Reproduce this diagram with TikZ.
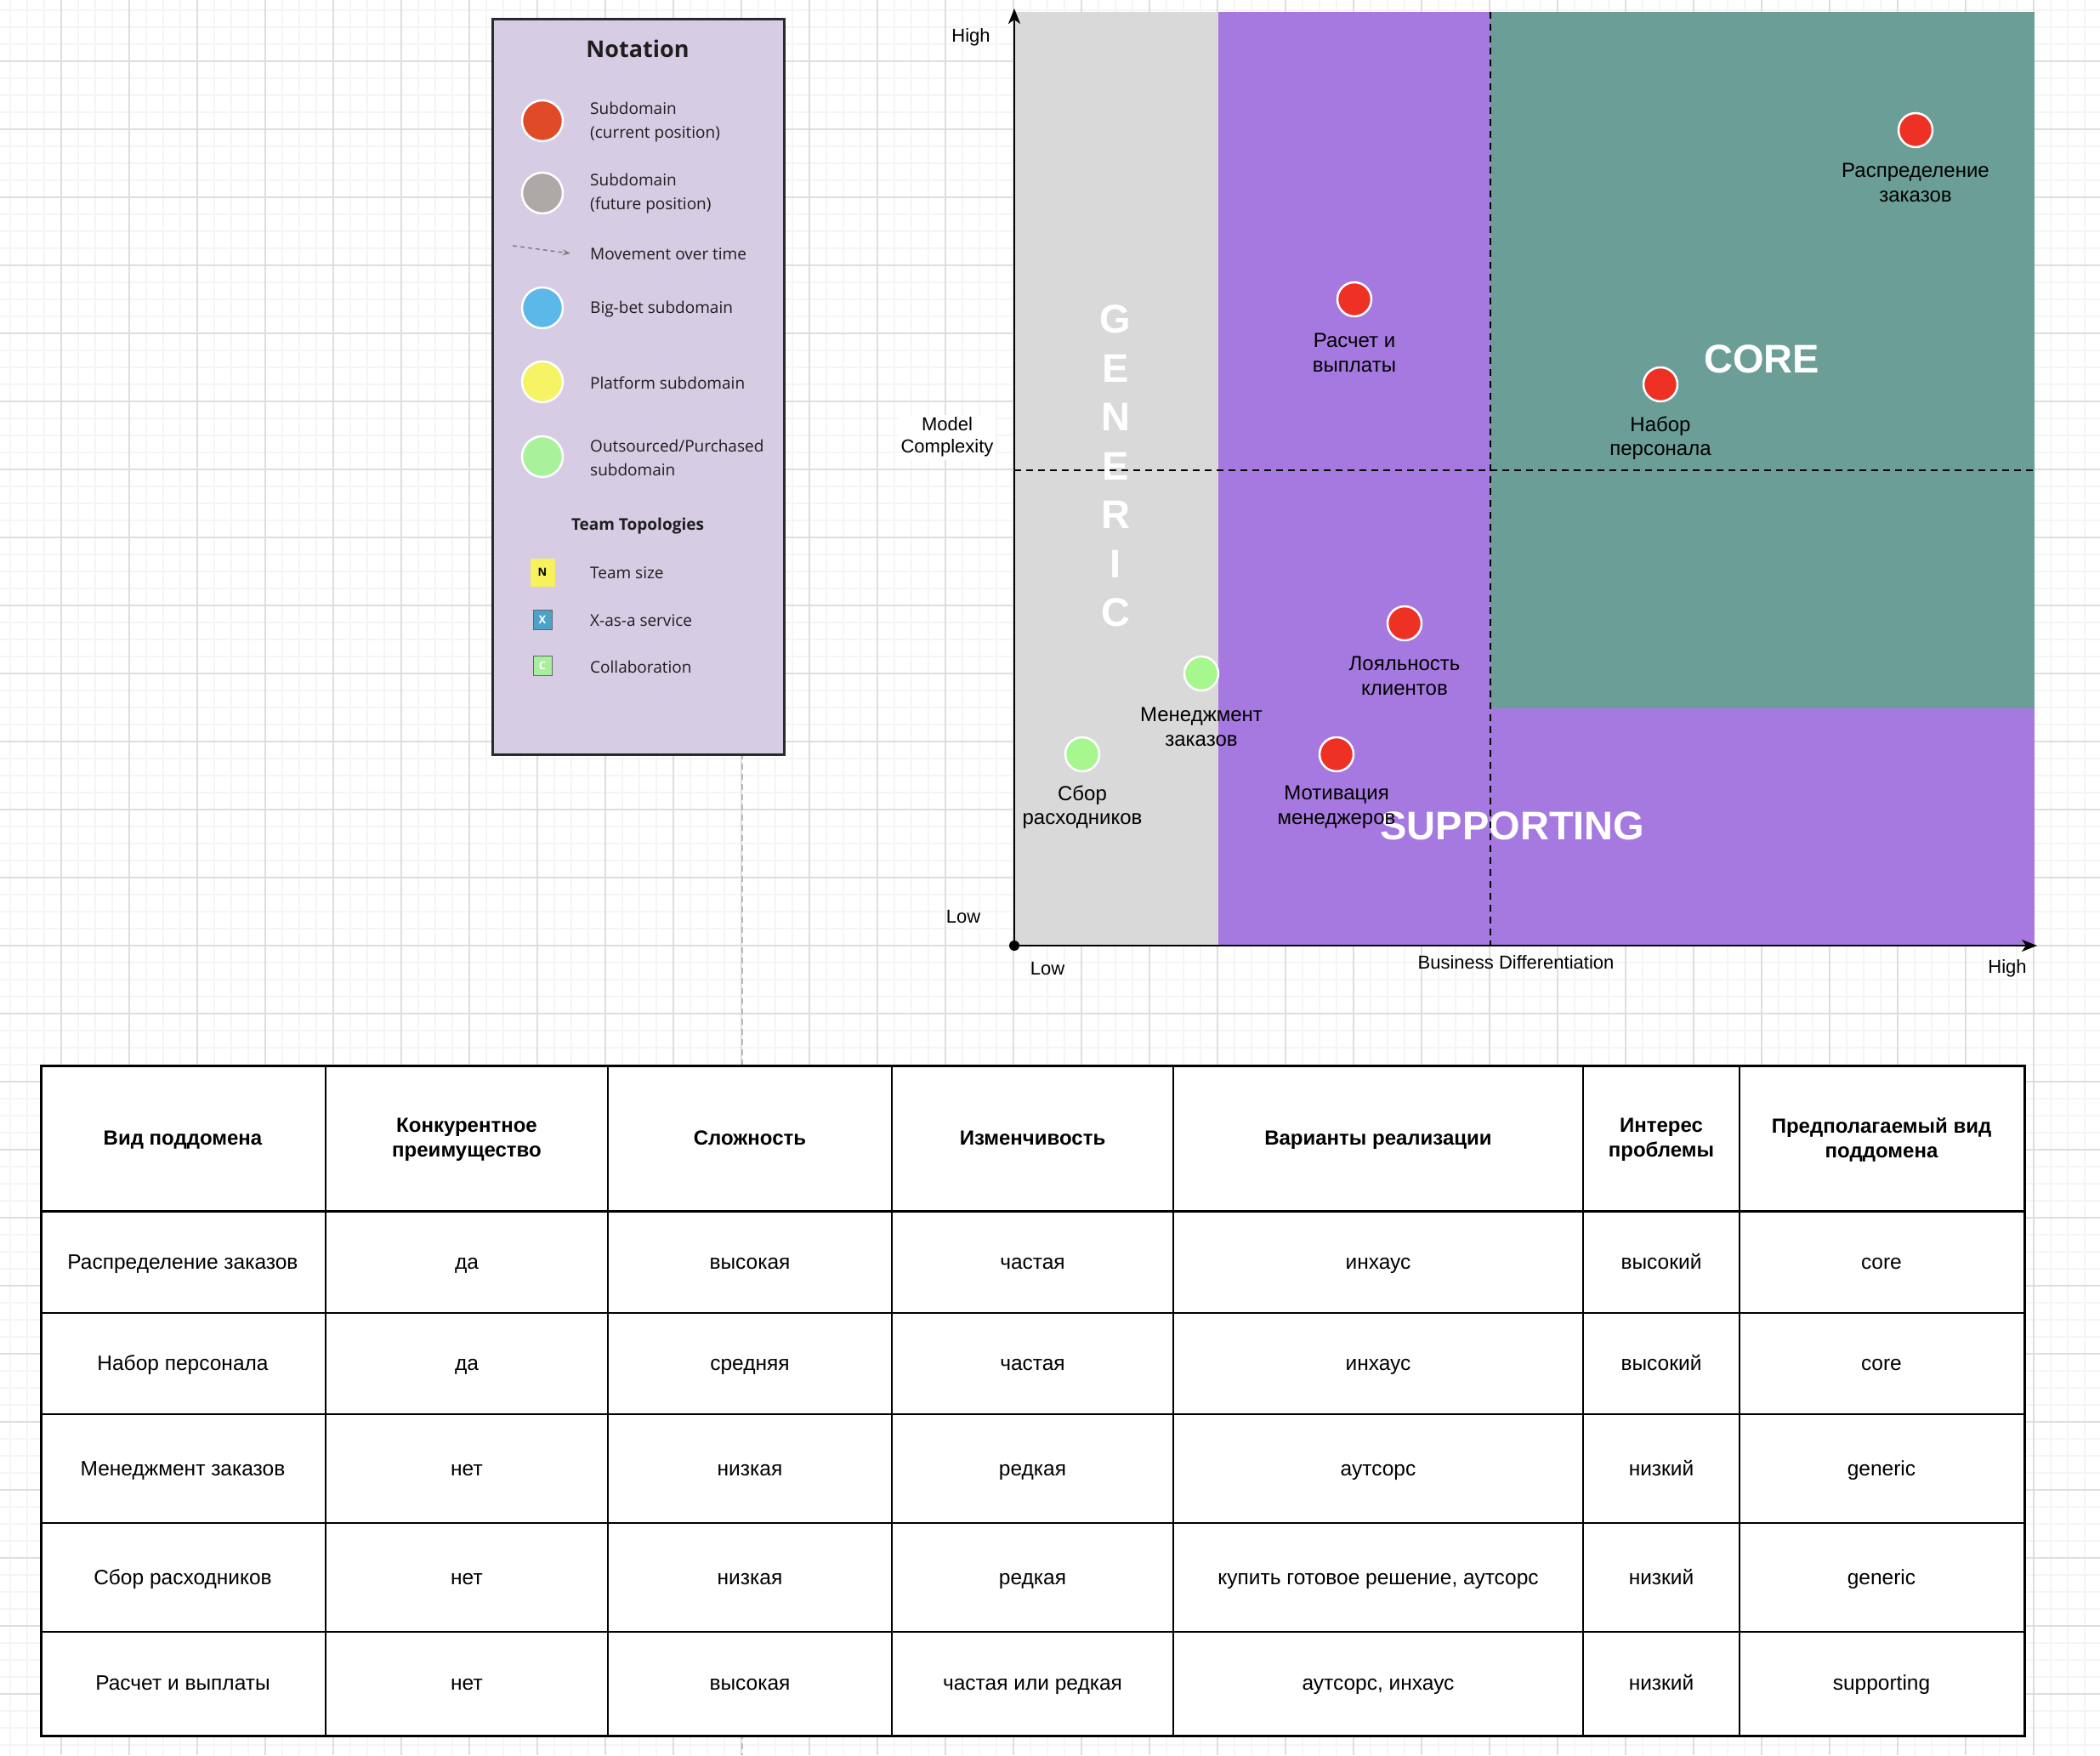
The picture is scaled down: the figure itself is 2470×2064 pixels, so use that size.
\documentclass[tikz,border=0pt]{standalone}
\usepackage{fontspec}
\setmainfont{Liberation Sans}
\newfontfamily\legendfont{Open Sans}
\usetikzlibrary{arrows.meta}
\definecolor{gridminor}{HTML}{F5F5F5}
\definecolor{gridmajor}{HTML}{DEDEDE}
\definecolor{legendbg}{HTML}{D6CCE4}
\definecolor{legendline}{HTML}{2A2A2A}
\definecolor{legendtext}{HTML}{1E1E1E}
\definecolor{genericc}{HTML}{D9D9D9}
\definecolor{supportc}{HTML}{A679E0}
\definecolor{corec}{HTML}{6A9E96}
\definecolor{dotred}{HTML}{EE3124}
\definecolor{dotgreen}{HTML}{A6F78E}
\definecolor{lgred}{HTML}{E04B27}
\definecolor{lggray}{HTML}{AEA9A7}
\definecolor{lgblue}{HTML}{5BB8E8}
\definecolor{lgyellow}{HTML}{F6F464}
\definecolor{lggreen}{HTML}{A9F29B}
\definecolor{sqyellow}{HTML}{F7F25C}
\definecolor{sqblue}{HTML}{4BA3C7}
\definecolor{sqgreen}{HTML}{A8EE9C}
\newcommand\tablerow[9]{%
  \node[tcell] (r#2a) at (215,#1) {#3};
  \node[tcell] (r#2b) at (549,#1) {#4};
  \node[tcell] (r#2c) at (882,#1) {#5};
  \node[tcell] (r#2d) at (1214.5,#1) {#6};
  \node[tcell] (r#2e) at (1621,#1) {#7};
  \node[tcell] (r#2f) at (1954,#1) {#8};
  \node[tcell] (r#2g) at (2213,#1) {#9};
}
\begin{document}
\begin{tikzpicture}[x=1pt,y=-1pt,
  ldot/.style={circle, draw=white, line width=2.5pt, minimum size=48pt, inner sep=0pt},
  ltext/.style={font=\legendfont\fontsize{19}{28}\selectfont, text=legendtext, align=left, anchor=west, inner sep=0pt},
  lsq/.style={draw=gray!80!black, line width=0.8pt, inner sep=0pt, font=\legendfont\bfseries\fontsize{13}{13}\selectfont},
  cdot/.style={circle, draw=white, line width=2.5pt, minimum size=40pt, inner sep=0pt},
  clbl/.style={font=\fontsize{24}{28.5}\selectfont, align=center, inner sep=0pt},
  axl/.style={font=\fontsize{22}{26.5}\selectfont, align=center, inner sep=1pt},
  bigl/.style={font=\bfseries\fontsize{47}{57.5}\selectfont, text=white, align=center, inner sep=0pt},
  tcell/.style={font=\fontsize{24.5}{29}\selectfont, inner sep=0pt, text height=19pt, text depth=3pt},
  thead/.style={font=\bfseries\fontsize{24}{29}\selectfont, align=center, inner sep=0pt},
  thead1/.style={font=\bfseries\fontsize{24}{29}\selectfont, inner sep=0pt, text height=19pt, text depth=3pt},
  dline/.style={line width=2pt, dash pattern=on 8pt off 6pt}
]
\useasboundingbox (0,0) rectangle (2470,2064);
\fill[white] (0,0) rectangle (2470,2064);
% background grid
\foreach \i in {0,...,123} \draw[gridminor, line width=1.8pt] ({12+20*\i},0) -- ({12+20*\i},2064);
\foreach \i in {0,...,102} \draw[gridminor, line width=1.8pt] (0,{12+20*\i}) -- (2470,{12+20*\i});
\foreach \i in {0,...,30} \draw[gridmajor, line width=1.2pt] ({72+80*\i},0) -- ({72+80*\i},2064);
\foreach \i in {0,...,24} \draw[gridmajor, line width=1.2pt] (0,{72+80*\i}) -- (2470,{72+80*\i});

% vertical gray dashed guide
\coordinate (gtop) at (873,886);
\coordinate (gbot) at (873,2064);
\draw[gray!55, line width=2.5pt, dash pattern=on 7pt off 5pt] (gtop) -- (gbot);

% legend
\node[draw=legendline, fill=legendbg, line width=3pt, minimum width=343pt, minimum height=865pt, anchor=north west, inner sep=0pt] (legend) at (578,21) {};
\node[font=\legendfont\bfseries\fontsize{27}{30}\selectfont, text=legendtext] (ltitle) at (750,57) {Notation};
\node[ldot, fill=lgred] (lc1) at (638,142) {};
\node[ltext] (lt1) at (694,144) {Subdomain\\(current position)};
\node[ldot, fill=lggray] (lc2) at (638,227) {};
\node[ltext] (lt2) at (694,228) {Subdomain\\(future position)};
\coordinate (ma) at (603,289);
\coordinate (mb) at (671,298);
\draw[gray, line width=1.5pt, dash pattern=on 5pt off 4pt, -{Stealth[length=9pt,width=7pt]}] (ma) -- (mb);
\node[ltext] (lt3) at (694,299) {Movement over time};
\node[ldot, fill=lgblue] (lc4) at (638,362) {};
\node[ltext] (lt4) at (694,364) {Big-bet subdomain};
\node[ldot, fill=lgyellow] (lc5) at (638,449) {};
\node[ltext] (lt5) at (694,450) {Platform subdomain};
\node[ldot, fill=lggreen] (lc6) at (638,537) {};
\node[ltext] (lt6) at (694,538) {Outsourced/Purchased\\subdomain};
\node[font=\legendfont\bfseries\fontsize{19}{22}\selectfont, text=legendtext] (ltt) at (750,619) {Team Topologies};
\node[lsq, draw=none, fill=sqyellow, minimum width=29pt, minimum height=33pt, text=black] (sqn) at (638,673) {N};
\node[ltext] (lt7) at (694,674) {Team size};
\node[lsq, fill=sqblue, minimum width=22pt, minimum height=23pt, text=white] (sqx) at (638,729) {X};
\node[ltext] (lt8) at (694,730) {X-as-a service};
\node[lsq, fill=sqgreen, minimum width=22pt, minimum height=23pt, text=white] (sqc) at (638,783) {C};
\node[ltext] (lt9) at (694,784) {Collaboration};

% chart regions
\fill[genericc] (1193,14) rectangle (1433,1112);
\fill[supportc] (1433,14) rectangle (2393,1112);
\fill[corec] (1753,14) rectangle (2393,833);
\node[bigl] (gen) at (1312,548) {G\\E\\N\\E\\R\\I\\C};
\node[bigl] (core) at (2072,422) {CORE};
\node[bigl] (supp) at (1779,971) {SUPPORTING};

% quadrant dashed lines
\coordinate (hl) at (1193,553);
\coordinate (hr) at (2393,553);
\coordinate (vt) at (1753,14);
\coordinate (vb) at (1753,1112);
\draw[dline] (hl) -- (hr);
\draw[dline] (vt) -- (vb);

% axes
\coordinate (O) at (1193,1112);
\coordinate (ytop) at (1193,10);
\coordinate (xend) at (2396,1112);
\draw[line width=2.5pt, -{Stealth[length=18pt,width=14pt,inset=5pt]}] (O) -- (ytop);
\draw[line width=2.5pt, -{Stealth[length=18pt,width=14pt,inset=5pt]}] (O) -- (xend);
\node[circle, fill=black, inner sep=0pt, minimum size=12pt] (odot) at (O) {};

\node[axl] (yhigh) at (1142,44) {High};
\node[axl, fill=white, inner sep=3pt] (ymc) at (1114,514) {Model\\Complexity};
\node[axl] (ylow) at (1133,1078) {Low};
\node[axl] (xlow) at (1232,1139) {Low};
\node[axl] (xbd) at (1783,1132) {Business Differentiation};
\node[axl] (xhigh) at (2361,1139) {High};

% subdomain dots
\node[cdot, fill=dotred] (d1) at (2253,153) {};
\node[clbl] (l1) at (2253,215) {Распределение\\заказов};
\node[cdot, fill=dotred] (d2) at (1593,352) {};
\node[clbl] (l2) at (1593,415) {Расчет и\\выплаты};
\node[cdot, fill=dotred] (d3) at (1953,452) {};
\node[clbl] (l3) at (1953,515) {Набор\\персонала};
\node[cdot, fill=dotred] (d4) at (1652,733) {};
\node[clbl] (l4) at (1652,795) {Лояльность\\клиентов};
\node[cdot, fill=dotgreen] (d5) at (1413,792) {};
\node[clbl] (l5) at (1413,855) {Менеджмент\\заказов};
\node[cdot, fill=dotgreen] (d6) at (1273,887) {};
\node[clbl] (l6) at (1273,949) {Сбор\\расходников};
\node[cdot, fill=dotred] (d7) at (1572,887) {};
\node[clbl] (l7) at (1572,949) {Мотивация\\менеджеров};

% table
\node[draw=black, fill=white, line width=3pt, minimum width=2333pt, minimum height=788pt, anchor=north west, inner sep=0pt] (tbl) at (47,1252) {};
\foreach \x in {383,715,1049,1380,1862,2046} \draw[line width=2pt] (\x,1252) -- (\x,2040);
\foreach \y in {1544,1663,1791,1919} \draw[line width=2pt] (47,\y) -- (2380,\y);
\draw[line width=3pt] (47,1424) -- (2380,1424);

\node[thead1] (h1) at (215,1338) {Вид поддомена};
\node[thead] (h2) at (549,1340) {Конкурентное\\преимущество};
\node[thead1] (h3) at (882,1338) {Сложность};
\node[thead1] (h4) at (1214.5,1338) {Изменчивость};
\node[thead1] (h5) at (1621,1338) {Варианты реализации};
\node[thead] (h6) at (1954,1340) {Интерес\\проблемы};
\node[thead] (h7) at (2213,1340) {Предполагаемый вид\\поддомена};

\tablerow{1484}{1}{Распределение заказов}{да}{высокая}{частая}{инхаус}{высокий}{core}
\tablerow{1603.5}{2}{Набор персонала}{да}{средняя}{частая}{инхаус}{высокий}{core}
\tablerow{1727}{3}{Менеджмент заказов}{нет}{низкая}{редкая}{аутсорс}{низкий}{generic}
\tablerow{1855}{4}{Сбор расходников}{нет}{низкая}{редкая}{купить готовое решение, аутсорс}{низкий}{generic}
\tablerow{1979.5}{5}{Расчет и выплаты}{нет}{высокая}{частая или редкая}{аутсорс, инхаус}{низкий}{supporting}
\end{tikzpicture}
\end{document}
